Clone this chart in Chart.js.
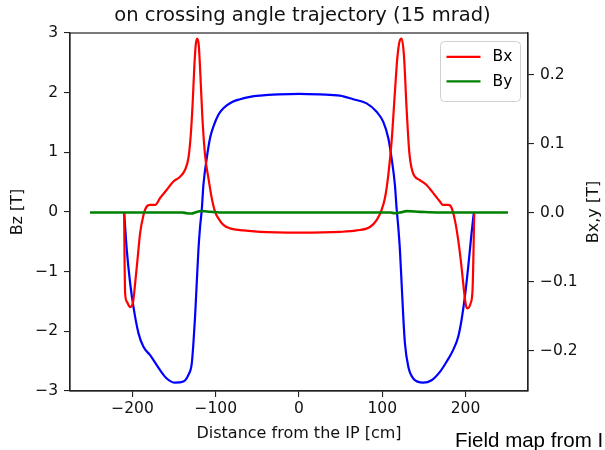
<!DOCTYPE html>
<html>
<head>
<meta charset="utf-8">
<script src="https://cdn.jsdelivr.net/npm/chart.js@4/dist/chart.umd.min.js"></script>
<style>
  html, body { margin: 0; padding: 0; background: #fff; overflow: hidden; }
  #wrap { position: relative; width: 605px; height: 450px; }
  #note { position: absolute; left: 455px; top: 429.6px; font-family: "Liberation Sans", Arial, sans-serif;
          font-size: 20.5px; line-height: 1; white-space: nowrap; color: #000; }
</style>
</head>
<body>
<div id="wrap">
  <canvas id="c" width="605" height="450"></canvas>
  <div id="note">Field map from I</div>
</div>
<script>
// ---- data ----
const bzX = [-210,-206.8,-202.8,-198.8,-192.8,-186.8,-178.8,-166.8,-158.8,-148.8,-138.8,-132.8,-128.8,-126.8,-124.8,-122.8,-120.8,-118.8,-116.8,-114.8,-110.8,-106.8,-102.8,-96.8,-90.8,-80.8,-70.8,-58.8,-46.8,-25,0,25,49.2,65.2,81.2,93.2,101.2,107.2,111.2,115.2,117.2,119.2,121.2,123.2,125.2,127.2,131.2,137.2,149.2,159.2,169.2,177.2,185.2,191.2,195.2,199.2,203.2,207.2,210];
const bzVals = [0,-0.64,-1.19,-1.59,-2.03,-2.26,-2.40,-2.65,-2.79,-2.86,-2.84,-2.73,-2.54,-2.20,-1.75,-1.19,-0.64,-0.25,0.03,0.45,0.90,1.24,1.43,1.63,1.74,1.84,1.89,1.93,1.95,1.97,1.98,1.97,1.95,1.89,1.82,1.68,1.51,1.24,0.90,0.45,0.06,-0.25,-0.64,-1.19,-1.75,-2.20,-2.59,-2.79,-2.86,-2.82,-2.68,-2.51,-2.31,-2.09,-1.81,-1.42,-0.92,-0.36,0];

const bxX = [-210,-209.6,-208.8,-206.8,-202.8,-199.6,-196.8,-194,-190.8,-186.8,-183.6,-178.8,-172.8,-166.8,-158.8,-150.8,-142.8,-136.8,-132.8,-130,-127.6,-125.6,-124,-122.4,-120.4,-118.4,-116,-112.8,-108.8,-104.8,-100.8,-96.8,-90.8,-82.8,-66.8,-46.8,0,49.2,69.2,85.2,93.2,99.2,103.2,107.2,111.2,115.2,118,121.2,123.2,126,129.2,132.4,136.4,145.2,153.2,163.2,169.2,172.8,179.2,183.2,187.2,191.2,195.2,198,200.4,202.4,206,208.4,209.6,210.4];
const bxVals = [0,-0.054,-0.117,-0.129,-0.137,-0.132,-0.103,-0.069,-0.030,-0.004,0.0075,0.011,0.011,0.021,0.033,0.045,0.052,0.062,0.079,0.112,0.161,0.214,0.243,0.252,0.243,0.199,0.137,0.083,0.050,0.021,0.001,-0.0085,-0.018,-0.023,-0.026,-0.028,-0.029,-0.028,-0.026,-0.021,-0.011,0.004,0.021,0.054,0.103,0.175,0.223,0.250,0.252,0.228,0.151,0.088,0.059,0.047,0.040,0.025,0.016,0.011,0.011,0.007,-0.011,-0.040,-0.079,-0.112,-0.134,-0.139,-0.132,-0.112,-0.054,0];

const byX = [-251,-140,-134.8,-128.8,-124.8,-116.8,-106.8,-95,110,115.2,121.2,129.2,145.2,169,251];
const byVals = [0,0,-0.001,-0.0015,0,0.0022,0.001,0,0,-0.001,0,0.002,0.001,0,0];

const xTicks = [-200,-100,0,100,200];
const bzTicks = [-3,-2,-1,0,1,2,3];
const bxyTicks = [-0.2,-0.1,0,0.1,0.2];
const legendLabels = ['Bx','By'];
const rightTitle = 'Bx,y [T]';

// ---- helpers ----
const FONT = '"DejaVu Sans", sans-serif';
const pts = (xs, ys) => xs.map((x, i) => ({x: x, y: ys[i]}));
const minus = s => s.replace('-', '\u2212');
const setTicks = arr => s => { s.ticks = arr.map(v => ({value: v})); };

const framePlugin = {
  id: 'frame',
  afterDatasetsDraw(chart) {
    const {ctx, chartArea: a} = chart;
    ctx.save();
    ctx.strokeStyle = '#222';
    ctx.lineWidth = 1.2;
    ctx.strokeRect(a.left, a.top, a.right - a.left, a.bottom - a.top);
    ctx.restore();
  }
};

// right-axis title, reading bottom-to-top like the reference
const rightTitlePlugin = {
  id: 'rightTitle',
  afterDraw(chart) {
    const {ctx, chartArea: a} = chart;
    ctx.save();
    ctx.translate(chart.width - 11, (a.top + a.bottom) / 2);
    ctx.rotate(-Math.PI / 2);
    ctx.font = '16px ' + FONT;
    ctx.fillStyle = '#111';
    ctx.textAlign = 'center';
    ctx.textBaseline = 'middle';
    ctx.fillText(rightTitle, 0, 0);
    ctx.restore();
  }
};

const innerLegend = {
  id: 'innerLegend',
  afterDatasetsDraw(chart) {
    const {ctx, chartArea: a} = chart;
    const items = chart.data.datasets.filter(d => legendLabels.includes(d.label));
    const w = 80, rowH = 24.5, h = 14 + rowH * items.length - 3;
    const x0 = a.right - 7.5 - w, y0 = a.top + 8.5;
    ctx.save();
    ctx.beginPath();
    ctx.roundRect(x0, y0, w, h, 4);
    ctx.fillStyle = 'rgba(255,255,255,0.8)';
    ctx.fill();
    ctx.strokeStyle = '#d0d0d0';
    ctx.lineWidth = 1;
    ctx.stroke();
    ctx.font = '15.5px ' + FONT;
    ctx.textBaseline = 'middle';
    ctx.fillStyle = '#000';
    items.forEach((d, i) => {
      const y = y0 + 15.3 + i * rowH;
      ctx.beginPath();
      ctx.moveTo(x0 + 6, y);
      ctx.lineTo(x0 + 40, y);
      ctx.strokeStyle = d.borderColor;
      ctx.lineWidth = 2.2;
      ctx.stroke();
      ctx.fillText(d.label, x0 + 52, y + 0.5);
    });
    ctx.restore();
  }
};

const axisCommon = (tickArr, fmt) => ({
  type: 'linear',
  afterBuildTicks: setTicks(tickArr),
  grid: { display: true, drawOnChartArea: false, drawTicks: true, tickLength: 6, color: '#222', lineWidth: 1.1 },
  border: { display: true, color: '#222', width: 1.2 },
  ticks: { color: '#111', font: { family: FONT, size: 15.5 }, padding: 6, callback: fmt, autoSkip: false, maxRotation: 0 }
});

const xScale = axisCommon(xTicks, v => minus(String(v)));
Object.assign(xScale, {
  position: 'bottom', min: -275, max: 275,
  afterFit: s => { s.height = 59; },
  title: { display: true, text: 'Distance from the IP [cm]', color: '#111', font: { family: FONT, size: 16, lineHeight: 1.2 }, padding: { top: 0, bottom: 6.4 } }
});
xScale.ticks.padding = 3;

const yScale = axisCommon(bzTicks, v => minus(String(v)));
Object.assign(yScale, {
  position: 'left', min: -3, max: 3,
  afterFit: s => { s.width = 70; },
  title: { display: true, text: 'Bz [T]', color: '#111', font: { family: FONT, size: 16, lineHeight: 1.2 }, padding: { top: 8, bottom: 0 } }
});

const y2Scale = axisCommon(bxyTicks, v => minus(v.toFixed(1)));
Object.assign(y2Scale, {
  position: 'right', min: -0.2587, max: 0.2602,
  afterFit: s => { s.width = 77; },
  title: { display: false }
});

new Chart(document.getElementById('c'), {
  type: 'line',
  data: {
    datasets: [
      { label: 'Bz', data: pts(bzX, bzVals), yAxisID: 'y', borderColor: '#0000ff', borderWidth: 2.2, order: 3,
        pointRadius: 0, cubicInterpolationMode: 'monotone', fill: false },
      { label: 'Bx', data: pts(bxX, bxVals), yAxisID: 'y2', borderColor: '#ff0000', borderWidth: 2.2, order: 2,
        pointRadius: 0, cubicInterpolationMode: 'monotone', fill: false },
      { label: 'By', data: pts(byX, byVals), yAxisID: 'y2', borderColor: '#008000', borderWidth: 2.6, order: 1,
        pointRadius: 0, cubicInterpolationMode: 'monotone', fill: false }
    ]
  },
  options: {
    responsive: false,
    animation: false,
    parsing: true,
    layout: { padding: 0 },
    plugins: {
      legend: { display: false },
      tooltip: { enabled: false },
      title: { display: true, text: 'on crossing angle trajectory (15 mrad)', color: '#111',
               font: { family: FONT, size: 19.5, weight: 'normal', lineHeight: 1.2 }, padding: { top: 4.5, bottom: 5.1 } }
    },
    scales: { x: xScale, y: yScale, y2: y2Scale }
  },
  plugins: [framePlugin, innerLegend, rightTitlePlugin]
});
</script>
</body>
</html>
